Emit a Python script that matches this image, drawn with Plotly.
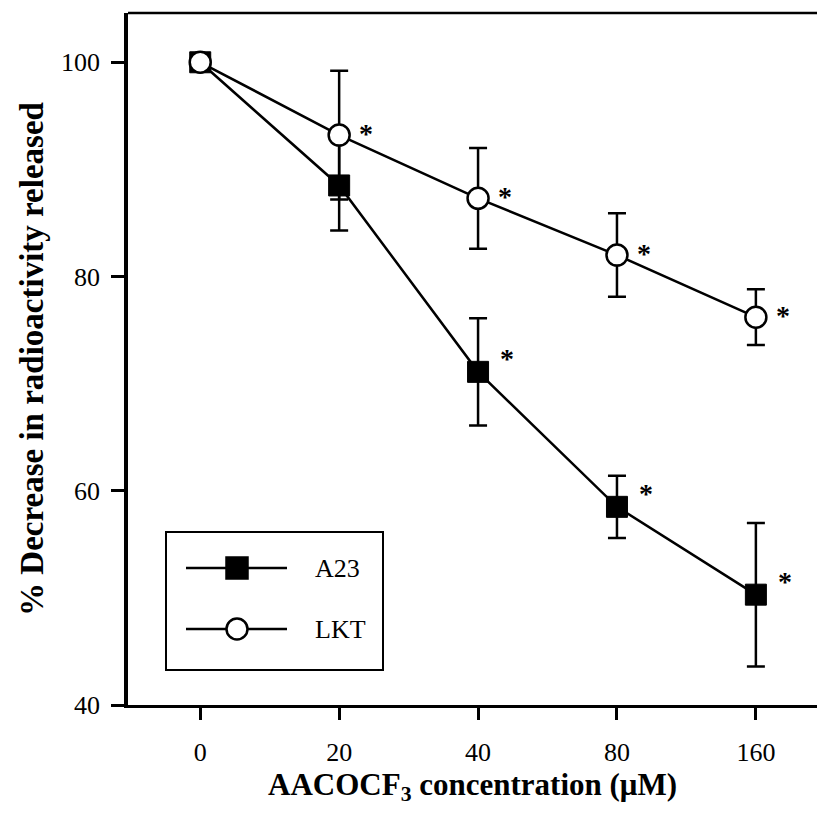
import plotly.graph_objects as go

conc = ["0", "20", "40", "80", "160"]
a23 = [100, 88.5, 71.1, 58.5, 50.3]
a23_err = [0, 4.2, 5.0, 2.9, 6.7]
lkt = [100, 93.2, 87.3, 82.0, 76.2]
lkt_err = [0, 6.0, 4.7, 3.9, 2.6]
a23_sig = [False, False, True, True, True]
lkt_sig = [False, True, True, True, True]

FONT = "Liberation Serif"
fig = go.Figure()

fig.add_trace(go.Scatter(
    x=conc, y=a23, mode="lines+markers", name="A23",
    line=dict(color="black", width=2.5),
    marker=dict(symbol="square", size=21, color="black", line=dict(color="black", width=1)),
    error_y=dict(type="data", array=a23_err, visible=True, color="black", thickness=2.5, width=9),
    showlegend=False))
fig.add_trace(go.Scatter(
    x=conc, y=lkt, mode="lines+markers", name="LKT",
    line=dict(color="black", width=2.5),
    marker=dict(symbol="circle", size=21, color="white", line=dict(color="black", width=2.5)),
    error_y=dict(type="data", array=lkt_err, visible=True, color="black", thickness=2.5, width=9),
    showlegend=False))

anns = []
for ys, sig, ysh, xsh in [(a23, a23_sig, 20, 29), (lkt, lkt_sig, 9, 27)]:
    for i, (yv, s) in enumerate(zip(ys, sig)):
        if s:
            anns.append(dict(x=i, y=yv, xref="x", yref="y", text="<b>*</b>", showarrow=False,
                             xshift=xsh, yshift=ysh - 7,
                             font=dict(family=FONT, size=28, color="black")))

# legend drawn manually (paper coords)
shapes = [
    dict(type="line", xref="paper", yref="paper", x0=0, x1=1, y0=1, y1=1,
         line=dict(color="black", width=2.5)),
    dict(type="rect", xref="paper", yref="paper",
         x0=(166 - 128) / 689, x1=(383 - 128) / 689,
         y0=(705 - 670) / 692, y1=(705 - 532) / 692,
         line=dict(color="black", width=2), fillcolor="white", layer="above"),
]
leg_items = [("A23", 568, "square", "black"), ("LKT", 629, "circle", "white")]
for label, py, sym, fill in leg_items:
    yy = (705 - py) / 692
    shapes.append(dict(type="line", xref="paper", yref="paper",
                       x0=(186 - 128) / 689, x1=(287 - 128) / 689, y0=yy, y1=yy,
                       line=dict(color="black", width=2.5), layer="above"))
    cx = (237 - 128) / 689
    r = 10.5
    shapes.append(dict(type="rect" if sym == "square" else "circle", xref="paper", yref="paper",
                       x0=cx - r / 689, x1=cx + r / 689, y0=yy - r / 692, y1=yy + r / 692,
                       line=dict(color="black", width=2.5), fillcolor=fill, layer="above"))
    anns.append(dict(x=(313 - 128) / 689, y=yy, xref="paper", yref="paper", text=label,
                     xanchor="left", yanchor="middle", showarrow=False,
                     font=dict(family=FONT, size=26, color="black")))

fig.update_layout(
    width=817, height=813,
    margin=dict(l=128, r=0, t=13, b=108),
    paper_bgcolor="white", plot_bgcolor="white",
    font=dict(family=FONT, color="black", size=26),
    shapes=shapes, annotations=anns,
    xaxis=dict(type="category", range=[-0.52, 4.44], showgrid=False, zeroline=False,
               showline=True, linecolor="black", linewidth=2.5,
               ticks="outside", ticklen=12, tickwidth=2.5, tickcolor="black",
               ticklabelstandoff=10,
               tickfont=dict(family=FONT, size=26),
               title=dict(text="<b>AACOCF<sub>3</sub> concentration (μM)</b>",
                          font=dict(family=FONT, size=31), standoff=0)),
    yaxis=dict(range=[40, 104.6], tickvals=[40, 60, 80, 100], showgrid=False, zeroline=False,
               showline=True, linecolor="black", linewidth=3.5,
               ticks="outside", ticklen=13, tickwidth=2.5, tickcolor="black",
               ticklabelstandoff=6,
               tickfont=dict(family=FONT, size=26),
               title=dict(text="<b>% Decrease in radioactivity released</b>",
                          font=dict(family=FONT, size=33), standoff=8)),
)

fig.write_html("out.html")
